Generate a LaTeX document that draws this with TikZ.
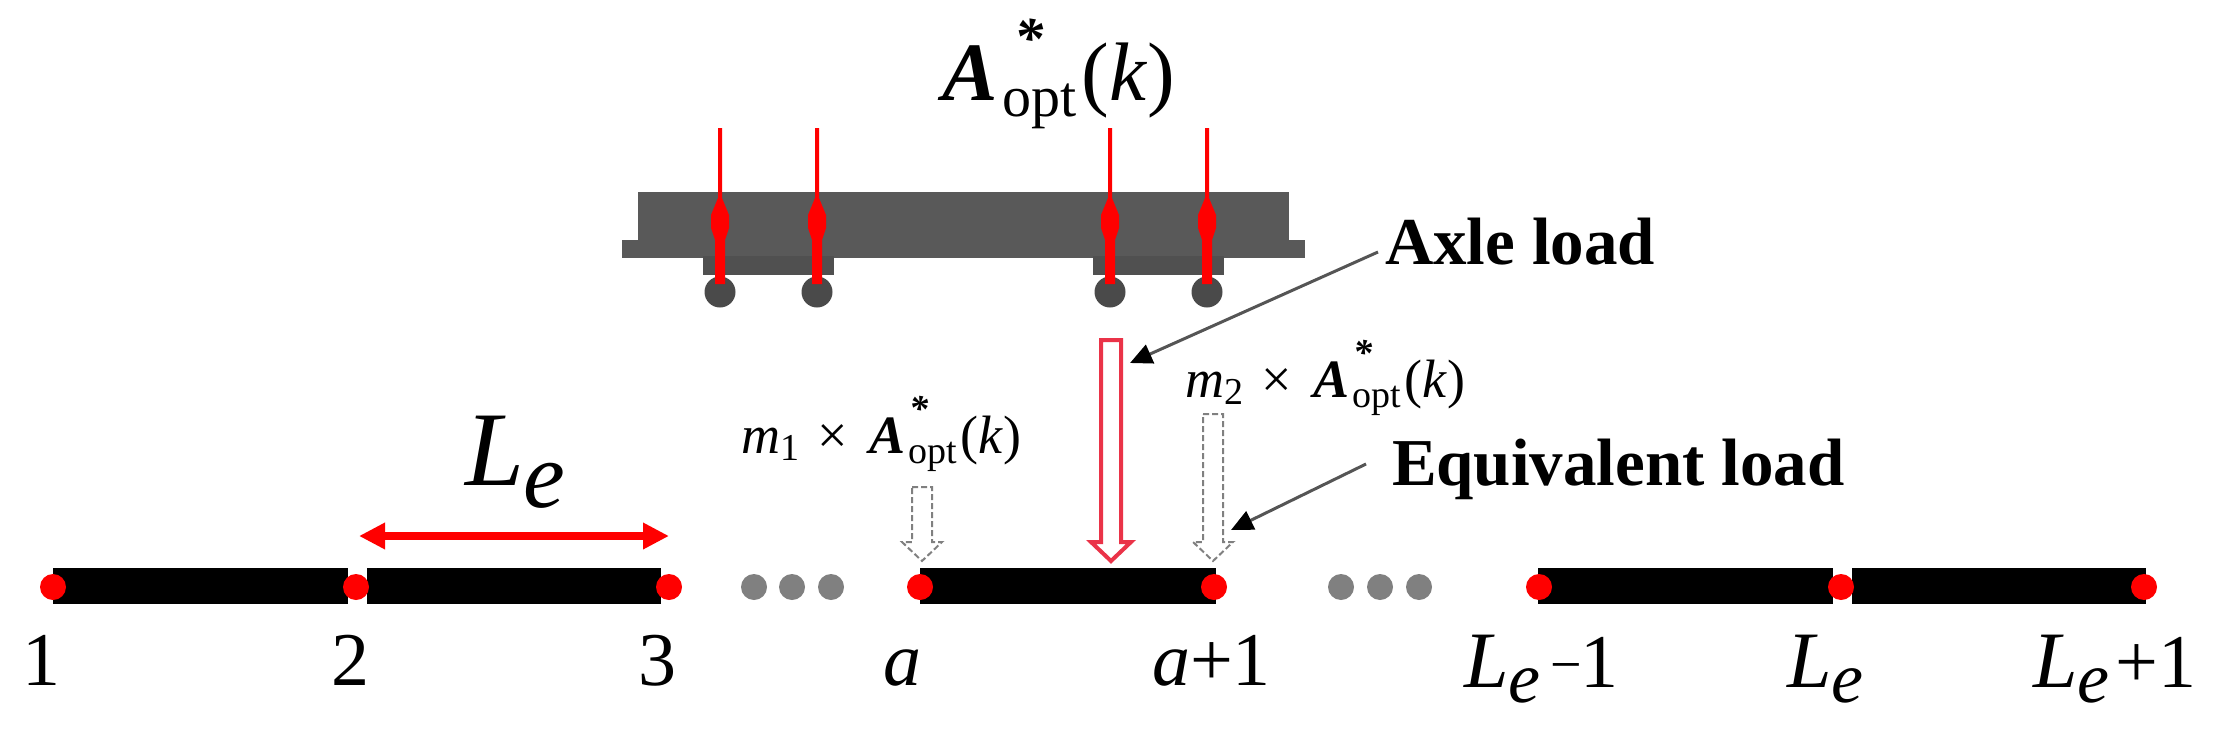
\documentclass[tikz,border=0pt]{standalone}
\usepackage{fontspec}
\setmainfont{Liberation Serif}
\usetikzlibrary{arrows.meta}
\definecolor{body}{HTML}{595959}
\definecolor{bogie}{HTML}{505050}
\definecolor{wheel}{HTML}{4A4A4A}
\definecolor{dotgrey}{HTML}{808080}
\definecolor{axlered}{HTML}{EA3348}
\definecolor{leader}{HTML}{555555}
\newcommand\fsz[1]{\fontsize{#1pt}{#1pt}\selectfont}
% A*opt(k): main size, sub size, star kern, star raise, gap
\newcommand\AoptT[5]{{\fsz{#1}\bfseries\itshape A}\rlap{\kern#3\raisebox{#4}{\fsz{#2}\bfseries\itshape *}}\kern#5\raisebox{-.2\dimexpr#1pt\relax}{\fsz{#2}opt}\kern#5{\fsz{#1}(\textit{k})}}
% L_e: L size, e size, e drop
\newcommand\LeT[3]{{\fsz{#1}\textit{L}}\raisebox{-#3}{\fsz{#2}\textit{e}}}
\tikzset{
  txt/.style={anchor=base west,inner sep=0pt,outer sep=0pt,text=black},
  ctxt/.style={anchor=base,inner sep=0pt,outer sep=0pt,text=black},
  beam/.style={fill=black,draw=none},
  rdot/.style={circle,fill=red,draw=none,minimum size=13pt,inner sep=0pt},
  gdot/.style={circle,fill=dotgrey,draw=none,minimum size=13pt,inner sep=0pt},
  wheelnode/.style={circle,fill=wheel,draw=none,minimum size=15.5pt,inner sep=0pt},
  leaderline/.style={draw=leader,line width=1.5pt,-{Triangle[length=11pt,width=10pt,color=black]},shorten >=0pt},
  axleout/.style={draw=axlered,line width=2pt,fill=white,line join=miter},
  eqout/.style={draw=dotgrey,line width=1pt,fill=white,dash pattern=on 3pt off 1.5pt},
  redforce/.style={fill=red,draw=none}
}
\newcommand\hollow[4]{% style, cx, top, ignored
  \draw[#1] (#2-10,#3) -- (#2+10,#3) -- (#2+10,542) -- (#2+20,542) -- (#2,561) -- (#2-20,542) -- (#2-10,542) -- cycle;}
\newcommand\redforce[1]{%
  \fill[redforce] (#1-2,128) -- (#1+2,128) -- (#1+2,198) -- (#1+9,215) -- (#1+9,228) -- (#1+5,240) -- (#1+5,284) -- (#1-5,284) -- (#1-5,240) -- (#1-9,228) -- (#1-9,215) -- (#1-2,198) -- cycle;}
\begin{document}
\begin{tikzpicture}[x=0.5pt,y=-0.5pt]
\useasboundingbox (0,0) rectangle (2216,744);
% vehicle
\fill[body] (622,240) rectangle (1305,258);
\fill[body] (638,192) rectangle (1289,257);
\fill[bogie] (703,256) rectangle (834,275);
\fill[bogie] (1093,256) rectangle (1224,275);
\node[wheelnode] (w1) at (720,292) {};
\node[wheelnode] (w2) at (817,292) {};
\node[wheelnode] (w3) at (1110,292) {};
\node[wheelnode] (w4) at (1207,292) {};
\redforce{720}\redforce{817}\redforce{1110}\redforce{1207}
% beams
\foreach \a/\b in {53/348,367/661,920/1216,1538/1833,1852/2146}
  \fill[beam] (\a,568) rectangle (\b,604);
\foreach \n/\x in {n1/53,n2/356,n3/669,na/920,nb/1214,nc/1539,nd/1841,ne/2144}
  \node[rdot] (\n) at (\x,587) {};
\foreach \n/\x in {g1/754,g2/792,g3/831,g4/1341,g5/1380,g6/1419}
  \node[gdot] (\n) at (\x,587) {};
% load arrows
\hollow{eqout}{922}{487}{}
\hollow{eqout}{1213}{414}{}
\hollow{axleout}{1111}{340}{}
% Le span
\coordinate (spanL) at (359,536);
\coordinate (spanR) at (669,536);
\draw[red,line width=4pt,{Triangle[length=13pt,width=12.5pt]}-{Triangle[length=13pt,width=12.5pt]}] (spanL) -- (spanR);
% title
\node[txt] (title) at (942,100) {\AoptT{41.5}{29}{8.5pt}{21.5pt}{2.5pt}};
\node[txt] (Le) at (465,485) {\LeT{53}{47}{11pt}};
% annotations
\node[txt] (axle) at (1385,264) {\fsz{33.5}\bfseries Axle load};
\node[txt] (equiv) at (1392,485) {\fsz{33.5}\bfseries Equivalent load};
\coordinate (axleS) at (1378,252);
\coordinate (axleT) at (1130,363);
\coordinate (eqS) at (1366,464);
\coordinate (eqT) at (1231,530);
\draw[leaderline] (axleS) -- (axleT);
\draw[leaderline] (eqS) -- (eqT);
\node[txt] (m1) at (741,453) {\fsz{27}\textit{m}\raisebox{-3.5pt}{\fsz{19}1}\kern9pt×\kern11pt\AoptT{27}{19}{2pt}{16pt}{1.6pt}};
\node[txt] (m2) at (1185,397) {\fsz{27}\textit{m}\raisebox{-3.5pt}{\fsz{19}2}\kern9pt×\kern11pt\AoptT{27}{19}{2pt}{16pt}{1.6pt}};
% node labels
\node[ctxt] (l1) at (41,685) {\fsz{38}1};
\node[ctxt] (l2) at (350,685) {\fsz{38}2};
\node[ctxt] (l3) at (657,685) {\fsz{38}3};
\node[ctxt] (la) at (902,685) {\fsz{38}\textit{a}};
\node[txt] (lb) at (1152,685) {\fsz{38}\textit{a}+1};
\node[txt] (lc) at (1464,687) {\LeT{40}{36}{7.5pt}\kern5pt\raisebox{2pt}{\fsz{28}−}\kern-1pt\fsz{38}1};
\node[txt] (ld) at (1787,687) {\LeT{40}{36}{7.5pt}};
\node[txt] (le) at (2033,687) {\LeT{40}{36}{7.5pt}\kern3pt\fsz{38}+1};
\end{tikzpicture}
\end{document}
